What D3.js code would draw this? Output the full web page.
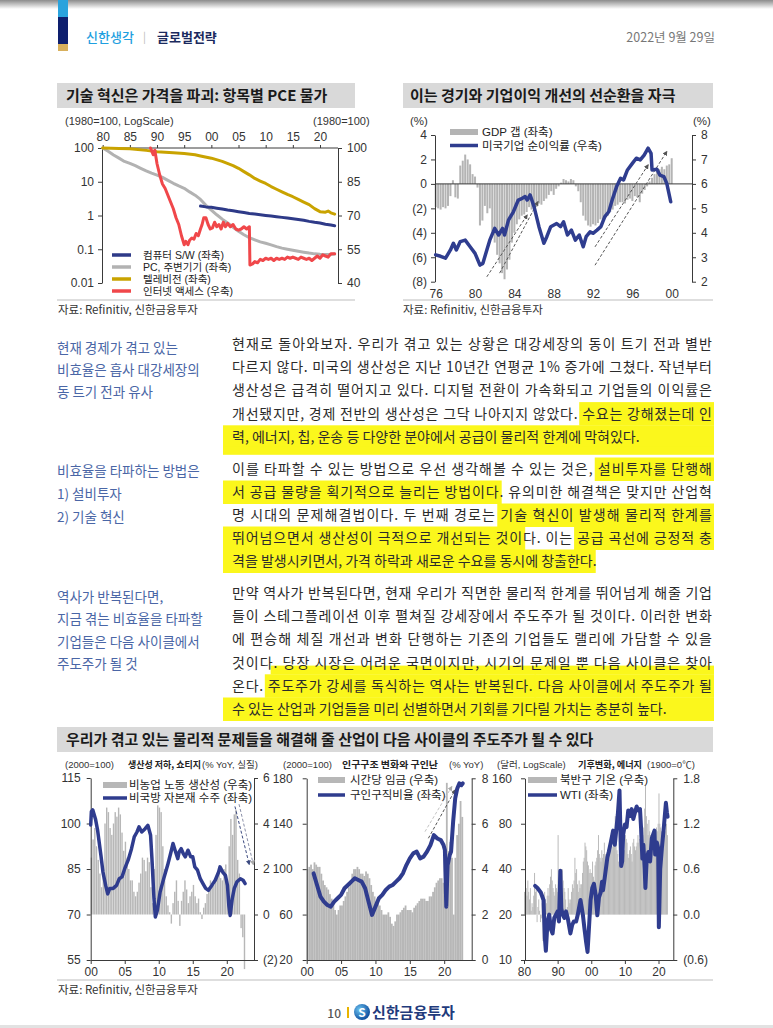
<!DOCTYPE html>
<html><head><meta charset="utf-8">
<script src="https://cdn.jsdelivr.net/npm/d3@7/dist/d3.min.js"></script>
<style>
html,body{margin:0;padding:0;background:#fff;}
svg{display:block;}
text{font-family:"Noto Sans CJK KR","Noto Sans",sans-serif;}
text.leg{font-family:"Liberation Sans","Noto Sans CJK KR",sans-serif;}
</style></head>
<body>
<svg id="page" width="773" height="1028" viewBox="0 0 773 1028"></svg>
<script>
// ================= DATA =================
// Chart 1: PCE prices by item (1980=100)
const pceYearTicks = [1980,1985,1990,1995,2000,2005,2010,2015,2020];
const pceLeftTicks = [100,10,1,0.1,0.01];
const pceRightTicks = [100,85,70,55,40];
const pceSoftware = [[1998,1.9],[1999,1.8],[2000,1.75],[2001,1.65],[2002,1.55],[2003,1.45],[2004,1.38],[2005,1.3],[2006,1.22],[2007,1.15],[2008,1.1],[2009,1.05],[2010,1.0],[2011,0.96],[2012,0.92],[2013,0.88],[2014,0.84],[2015,0.8],[2016,0.76],[2017,0.72],[2018,0.67],[2019,0.63],[2020,0.6],[2021,0.55],[2022,0.52],[2022.7,0.5]];
const pcePC = [[1980,100],[1981,80],[1982,62],[1983,50],[1984,40],[1985,35],[1986,30],[1987,25],[1988,21],[1989,18],[1990,15.8],[1991,13.5],[1992,11],[1993,9],[1994,7.5],[1995,6.4],[1996,5],[1997,4],[1998,3],[1999,2],[2000,1.45],[2001,1.05],[2002,0.78],[2003,0.6],[2004,0.45],[2005,0.34],[2006,0.27],[2007,0.22],[2008,0.19],[2009,0.165],[2010,0.15],[2011,0.135],[2012,0.12],[2013,0.108],[2014,0.1],[2015,0.093],[2016,0.087],[2017,0.082],[2018,0.077],[2019,0.073],[2020,0.071],[2021,0.07],[2022,0.07],[2022.7,0.072]];
const pceTV = [[1980,100],[1983,97],[1985,95],[1988,85],[1990,78],[1993,72],[1995,69],[1997,63],[1998,58],[2000,50],[2002,40],[2004,30],[2005,25],[2006,20],[2007,16],[2008,12.5],[2009,10.5],[2010,8.9],[2011,7.2],[2012,6],[2013,5],[2014,4.2],[2015,3.6],[2016,3],[2017,2.5],[2018,2.1],[2019,1.6],[2020,1.3],[2021,1.25],[2021.5,1.35],[2022,1.2],[2022.7,1.1]];
const pceInternet = [[1988.8,100],[1989.3,97],[1989.6,99],[1990,93],[1990.5,88],[1991,84],[1991.5,82],[1992,79],[1992.5,76],[1993,73],[1993.5,69],[1994,66],[1994.5,61],[1995,57],[1995.3,58.5],[1995.7,57],[1996,59],[1996.4,60],[1996.8,59.5],[1997.2,62],[1997.6,61],[1998,64],[1998.3,66],[1998.6,69],[1999,69],[1999.4,66],[1999.8,64],[2000.2,64.5],[2000.6,67],[2001,65],[2001.4,66],[2001.8,64],[2002.2,67],[2002.6,65],[2003,66.5],[2003.5,65],[2004,66],[2004.5,64],[2005,63.5],[2005.5,64],[2006,65],[2006.5,64],[2007,65],[2007.1,48],[2007.6,48.5],[2008,49.5],[2008.5,49],[2009,50.5],[2009.5,50],[2010,51],[2010.5,50.5],[2011,51],[2011.5,50],[2012,51],[2012.5,50.5],[2013,51],[2013.5,50.5],[2014,51.5],[2014.5,51],[2015,51.5],[2015.5,51],[2016,50.5],[2016.5,51.5],[2017,51],[2017.5,50.5],[2018,51],[2018.5,50],[2019,51],[2019.5,52],[2020,51],[2020.5,52.5],[2021,52],[2021.5,51.5],[2022,53],[2022.7,53]];
const pceLegend = ["컴퓨터 S/W (좌축)","PC, 주변기기 (좌축)","텔레비전 (좌축)","인터넷 액세스 (우축)"];

// Chart 2: GDP gap (quarterly from 1976Q1) and US corporate profit margin
const gapStartYear = 1976;
const gdpGap = [
 -1.9,-2.0,-2.1,-1.9,  -2.0,-1.8,-1.0,0.3,  -1.1,-1.2,1.5,1.9,  2.4,2.0,1.6,0.8,
 0.6,-0.3,-3.4,-3.0,  -1.8,-2.4,-2.0,-3.9,  -4.8,-5.8,-6.5,-7.3,  -7.8,-7.0,-6.2,-4.8,
 -4.0,-3.3,-2.9,-2.6,  -2.5,-2.3,-1.9,-2.1,  -1.6,-1.9,-1.6,-1.7,  -1.4,-1.2,-0.9,-0.6,
 -0.9,-0.4,-0.2,0.1,  0.4,0.3,0.2,0.4,  0.3,-0.2,-0.6,-1.5,  -2.6,-3.0,-3.4,-3.5,
 -3.3,-3.4,-3.2,-2.9,  -3.0,-2.8,-2.6,-2.3,  -2.1,-1.8,-1.7,-1.5,  -1.5,-1.6,-1.3,-1.2,
 -1.4,-1.0,-1.1,-1.5,  -0.8,-0.5,-0.2,0.2,  0.5,0.8,1.0,1.2,  1.4,1.2,1.5,1.6,  2.1];
const usProfitMargin = [[1976,3.1],[1976.5,3.04],[1977,2.96],[1977.5,3.3],[1977.8,3.57],[1978.1,3.3],[1978.5,3.64],[1979,3.7],[1979.5,3.43],[1980,3.16],[1980.5,2.68],[1980.8,2.75],[1981.2,3.3],[1981.5,3.7],[1982,4.18],[1982.4,3.91],[1982.8,4.18],[1983,3.91],[1983.4,4.52],[1983.9,4.86],[1984.4,5.34],[1984.8,5.41],[1985.1,5.48],[1985.3,5.34],[1985.6,5.55],[1986,5.07],[1986.5,4.25],[1987,3.57],[1987.3,3.84],[1987.7,4.25],[1988.3,4.38],[1988.7,4.25],[1989,4.45],[1989.4,3.91],[1989.8,4.11],[1990.2,3.7],[1990.6,3.91],[1991,3.43],[1991.3,3.84],[1991.7,4.04],[1992,3.98],[1992.4,4.11],[1992.8,4.25],[1993.2,4.66],[1993.6,4.86],[1994,5.41],[1994.4,5.89],[1994.8,6.23],[1995.1,6.16],[1995.5,6.57],[1996,6.84],[1996.4,7.05],[1996.8,6.98],[1997.2,7.18],[1997.6,7.46],[1997.9,7.25],[1998,6.57],[1998.5,6.6],[1998.8,6.36],[1999.2,6.3],[1999.5,6.02],[1999.9,5.27]];
const gapYearTicks = [1976,1980,1984,1988,1992,1996,2000];
const gapLeftTicks = [4,2,0,-2,-4,-6,-8];
const gapRightTicks = [8,7,6,5,4,3,2];
const gapArrows = [[[1981.2,-7.6],[1985.3,-2.55]],[[1982.5,-7.3],[1986.4,-1.45]],[[1992.2,-5.15],[1997.6,1.55]],[[1992.2,-6.65],[1999.5,2.65]]];
const gapLegend = ["GDP 갭 (좌축)","미국기업 순이익률 (우축)"];

// Chart A: productivity (quarterly from 2000Q1) and nondefense capital goods orders
const prodStartYear = 2000;
const nonfarmProductivity = [
 2.5,3.3,3.8,3.0,  2.4,1.8,1.2,2.0,  4.0,4.7,4.5,3.8,  3.5,4.0,4.5,4.3,  4.7,4.4,3.6,2.8,
 3.2,2.5,2.0,1.5,  1.5,1.0,0.8,1.0,  1.4,1.8,2.5,2.4,  1.9,2.5,2.3,1.2,  0.5,2.0,3.5,4.8,
 4.7,4.5,3.0,2.0,  0.8,0.4,0.1,-0.4,  0.5,1.0,1.5,0.6,  -0.5,0.6,1.0,1.5,  1.1,0.5,0.8,1.0,
 1.3,0.8,0.5,0.7,  0.1,-0.2,0.3,0.5,  0.9,1.2,1.5,1.3,  1.3,1.5,1.8,1.9,  1.6,1.5,2.0,2.2,
 1.0,3.0,4.2,3.5,  4.4,4.6,2.4,1.8,  -0.6,-1.0,-2.4];
const capitalGoodsOrders = [[2000,99.5],[2000.1,103.9],[2000.3,104.5],[2000.7,101.5],[2001,98],[2001.5,89.5],[2001.8,84],[2002.2,79.6],[2002.5,76.8],[2002.8,78.6],[2003.3,78.6],[2003.8,79.6],[2004.2,81.8],[2004.6,82.4],[2005,85.1],[2005.5,87.9],[2006,91.7],[2006.4,95.6],[2006.8,97.2],[2007.1,98.9],[2007.5,97.2],[2008,98.3],[2008.4,99.4],[2008.8,96.1],[2009,88.4],[2009.3,75.2],[2009.5,69.2],[2009.8,71.4],[2010.2,77.4],[2010.8,82.4],[2011.3,86.2],[2011.8,90.6],[2012.1,93.4],[2012.4,91.2],[2012.8,88.4],[2013,90.6],[2013.3,91.7],[2013.6,90.1],[2013.9,89],[2014.3,91.2],[2014.7,89],[2015,89],[2015.3,85.7],[2015.7,84.6],[2016.1,81.8],[2016.5,80.2],[2016.9,78.6],[2017.3,78],[2017.8,79.6],[2018.3,81.3],[2018.8,84],[2019,85.7],[2019.4,84],[2019.8,82.9],[2020.1,79.6],[2020.3,73],[2020.5,69.7],[2020.8,75.2],[2021.1,78.6],[2021.5,80.8],[2022,81.8],[2022.4,81.3],[2022.7,80.2]];
const prodLeftTicks = [115,100,85,70,55];
const prodRightTicks = [6,4,2,0,-2];
const prodYearTicks = [2000,2005,2010,2015,2020];
const prodArrows = [[[2021.2,4.75],[2023.3,2.2]],[[2021.8,4.85],[2023.9,2.2]]];
const prodLegend = ["비농업 노동 생산성 (우축)","비국방 자본재 수주 (좌축)"];

// Chart B: hourly wages (quarterly from 2000Q1) and job openings ratio
const wageStartYear = 2000;
const hourlyWages = [
 4.0,4.1,4.2,4.0,  4.3,4.2,4.1,4.1,  3.8,3.5,3.3,3.2,  3.1,2.9,2.7,2.5,  2.2,2.0,2.2,2.4,
 2.4,2.6,2.8,3.0,  3.2,3.5,3.8,4.0,  4.0,4.1,4.0,3.8,  3.8,3.7,3.9,3.8,  3.6,3.3,3.0,2.8,
 2.6,2.5,2.4,2.2,  2.0,2.0,2.0,2.1,  1.9,1.6,1.5,1.7,  2.0,2.0,2.1,2.2,  2.3,2.4,2.2,2.2,
 2.2,2.1,2.3,2.4,  2.5,2.6,2.7,2.7,  2.7,2.6,2.6,2.8,  2.8,3.0,3.2,3.4,  3.5,3.6,3.6,3.4,
 3.3,7.8,4.8,5.2,  4.5,2.0,4.5,5.5,  6.0,7.0,6.3];
const jobOpeningsRatio = [[2001,96.3],[2001.5,86],[2002,75.8],[2002.5,71.4],[2003,68.4],[2003.5,67],[2004,71.4],[2004.5,74.4],[2005,77.3],[2005.5,83.2],[2006,86.1],[2006.5,89],[2007,92],[2007.5,90.5],[2008,89],[2008.5,83.2],[2009,71.4],[2009.5,59.7],[2010,67],[2010.5,74.4],[2011,77.3],[2011.5,81.7],[2012,84.6],[2012.5,86.1],[2013,89],[2013.5,92],[2014,96.3],[2014.5,103.6],[2015,109.5],[2015.5,113.9],[2016,115.4],[2016.5,109.5],[2017,111],[2017.5,115.4],[2018,121.2],[2018.5,130],[2019,127],[2019.5,125.6],[2019.9,121.2],[2020.1,116.8],[2020.3,67],[2020.5,103.6],[2020.8,112.4],[2021,115.4],[2021.3,141.8],[2021.6,162.3],[2021.9,171.1],[2022.2,175.5],[2022.5,174],[2022.7,175.5]];
const wageLeftTicks = [180,140,100,60,20];
const wageRightTicks = [8,6,4,2,0];
const wageYearTicks = [2000,2005,2010,2015,2020];
const wageArrows = [[[2017.2,5.65],[2021.1,7.63]],[[2017.7,5.36],[2021.6,7.49]]];
const wageLegend = ["시간당 임금 (우축)","구인구직비율 (좌축)"];

// Chart C: Northern hemisphere temperature anomaly (quarterly from 1980Q1) and WTI
const tempStartYear = 1980;
const nhTemperature = [
 0.30,0.20,0.35,0.25, 0.45,0.30,0.20,0.35, 0.05,0.15,0.10,0.25, 0.55,0.30,0.35,-0.10,
 0.10,0.20,0.05,-0.10, -0.05,0.15,-0.35,0.05, 0.30,0.20,0.15,0.25, 0.35,0.25,0.40,0.50,
 0.60,0.45,0.35,0.30, 0.25,0.40,0.35,0.30, 1.05,0.50,0.40,0.55, 0.50,0.60,0.45,0.35,
 0.30,0.20,0.05,0.10, 0.35,0.20,0.15,0.20, 0.30,0.40,0.35,0.45, 0.75,0.55,0.60,0.40,
 0.30,0.45,0.35,0.40, 0.40,0.55,0.70,0.75, 0.95,0.90,0.85,0.70, 0.65,0.55,0.60,0.55,
 0.55,0.70,0.50,0.45, 0.65,0.70,0.75,0.85, 1.05,0.80,0.75,0.70, 0.85,0.75,0.80,0.95,
 0.80,0.70,0.65,0.85, 0.90,0.95,0.90,1.05, 0.85,0.90,0.95,1.10, 1.30,0.95,0.85,0.80,
 0.70,0.75,0.80,0.85, 0.75,0.80,0.90,0.85, 1.05,1.00,0.95,0.80, 0.75,0.85,0.90,0.80,
 0.70,0.95,1.00,0.90, 0.85,0.90,0.95,1.05, 0.95,1.00,1.05,0.95, 1.10,1.05,1.15,1.40,
 1.70,1.30,1.20,1.05, 1.25,1.10,1.05,1.00, 1.00,1.05,0.95,0.90, 1.10,1.15,1.10,1.20,
 1.60,1.20,1.15,1.10, 0.95,1.05,1.10,1.15, 1.10,1.20,1.05];
const wti = [[1983.3,31],[1984,30],[1985,28],[1985.8,25],[1986.2,14],[1986.5,11.5],[1987,18],[1987.5,20],[1988,16],[1988.5,15],[1989,19],[1989.5,20],[1990,21],[1990.4,18],[1990.8,39],[1991.1,22],[1991.5,20],[1992,19],[1992.5,21],[1993,19],[1993.8,15],[1994.3,17],[1994.8,18],[1995.5,18],[1996,20],[1996.8,25],[1997.5,20],[1998,16],[1998.5,13],[1998.9,11.3],[1999.3,16],[1999.8,25],[2000.3,30],[2000.8,32],[2001.3,27],[2001.8,19.8],[2002.3,26],[2002.8,28],[2003.2,33],[2003.5,29],[2004,35],[2004.8,48],[2005.2,52],[2005.8,60],[2006.5,72],[2007,58],[2007.5,75],[2007.9,92],[2008.4,133],[2008.9,42],[2009.2,45],[2009.5,68],[2010,79],[2010.5,76],[2011,98],[2011.5,90],[2012,100],[2012.5,86],[2013,95],[2013.5,104],[2014,98],[2014.5,100],[2014.8,76],[2015.2,47],[2015.5,58],[2015.9,40],[2016.1,30],[2016.5,47],[2017,52],[2017.5,45],[2018,64],[2018.8,72],[2019,50],[2019.5,60],[2019.9,55],[2020.1,16.5],[2020.5,40],[2021,55],[2021.5,72],[2022.2,110],[2022.5,95],[2022.7,89]];
const tempLeftTicks = [160,80,40,20,10];
const tempRightTicks = [1.8,1.2,0.6,0,-0.6];
const tempYearTicks = [1980,1990,2000,2010,2020];
const tempLegend = ["북반구 기온 (우축)","WTI (좌축)"];

// Text content
const headerLeft = "신한생각", headerRight = "글로벌전략", headerDate = "2022년 9월 29일";
const title1 = "기술 혁신은 가격을 파괴: 항목별 PCE 물가";
const title2 = "이는 경기와 기업이익 개선의 선순환을 자극";
const title3 = "우리가 겪고 있는 물리적 문제들을 해결해 줄 산업이 다음 사이클의 주도주가 될 수 있다";
const sourceText = "자료: Refinitiv, 신한금융투자";
const bottomHeaders = [
 ["(2000=100)",false,65,0],["생산성 저하, 쇼티지",true,128,73],["(% YoY, 실질)",false,202,0],
 ["(2000=100)",false,283,0],["인구구조 변화와 구인난",true,342,96],["(% YoY)",false,449,0],
 ["(달러, LogScale)",false,497,0],["기후변화, 에너지",true,578,64],["(1900=0℃)",false,647,0]];
const section1Labels = ["현재 경제가 겪고 있는","비효율은 흡사 대강세장의","동 트기 전과 유사"];
const section1Body = [
 "현재로 돌아와보자. 우리가 겪고 있는 상황은 대강세장의 동이 트기 전과 별반",
 "다르지 않다. 미국의 생산성은 지난 10년간 연평균 1% 증가에 그쳤다. 작년부터",
 "생산성은 급격히 떨어지고 있다. 디지털 전환이 가속화되고 기업들의 이익률은",
 "개선됐지만, 경제 전반의 생산성은 그닥 나아지지 않았다. [수요는 강해졌는데 인]",
 "[력, 에너지, 칩, 운송 등 다양한 분야에서 공급이 물리적 한계에 막혀있다.]"];
const section2Labels = ["비효율을 타파하는 방법은","1) 설비투자","2) 기술 혁신"];
const section2Body = [
 "이를 타파할 수 있는 방법으로 우선 생각해볼 수 있는 것은, [설비투자를 단행해]",
 "[서 공급 물량을 획기적으로 늘리는 방법이다]. 유의미한 해결책은 맞지만 산업혁",
 "명 시대의 문제해결법이다. 두 번째 경로는 [기술 혁신이 발생해 물리적 한계를]",
 "[뛰어넘으면서 생산성이 극적으로 개선되는 것이]다. 이는 [공급 곡선에 긍정적 충]",
 "[격을 발생시키면서, 가격 하락과 새로운 수요를 동시에 창출한다]."];
const section3Labels = ["역사가 반복된다면,","지금 겪는 비효율을 타파할","기업들은 다음 사이클에서","주도주가 될 것"];
const section3Body = [
 "만약 역사가 반복된다면, 현재 우리가 직면한 물리적 한계를 뛰어넘게 해줄 기업",
 "들이 스테그플레이션 이후 펼쳐질 강세장에서 주도주가 될 것이다. 이러한 변화",
 "에 편승해 체질 개선과 변화 단행하는 기존의 기업들도 랠리에 가담할 수 있을",
 "것이다{. 당장 시장은 어려운 국면이지만, 시기의 문제일 뿐 다음 사이클은 찾아}",
 "온다. [주도주가 강세를 독식하는 역사는 반복된다.] [다음 사이클에서 주도주가 될]",
 "[수 있는 산업과 기업들을 미리 선별하면서 기회를 기다릴 가치는 충분히 높다.]"];

// ================= DRAW =================
const svg = d3.select('#page');
const NAVY = '#2f3c8e', BAR = '#b7b7b7', AX = '#3a3a3a', TXT = '#333333', TITLEBG = '#d9d9d9';
const LBLUE = '#4a66a6', HIL = '#fbf71c';
const defs = svg.append('defs');
const sh = defs.append('linearGradient').attr('id','topShadow').attr('x1',0).attr('y1',0).attr('x2',0).attr('y2',1);
sh.append('stop').attr('offset','0%').attr('stop-color','#8c8c8c');
sh.append('stop').attr('offset','100%').attr('stop-color','#ffffff');
const lg = defs.append('radialGradient').attr('id','logoGrad').attr('cx','35%').attr('cy','35%').attr('r','70%');
lg.append('stop').attr('offset','0%').attr('stop-color','#6cc3f0');
lg.append('stop').attr('offset','100%').attr('stop-color','#0b4a9c');
function marker(id, color){
  defs.append('marker').attr('id',id).attr('viewBox','0 0 10 10').attr('refX',8).attr('refY',5)
   .attr('markerWidth',5).attr('markerHeight',5).attr('orient','auto')
   .append('path').attr('d','M0,0L10,5L0,10z').attr('fill',color);
}
marker('arrDark','#555'); marker('arrLight','#aaa'); marker('arrNavy','#3c4a80');

function txt(g, x, y, s, o={}){
  const t = g.append('text').attr('x',x).attr('y',y).text(s)
    .attr('font-size',o.size||12).attr('fill',o.fill||TXT)
    .attr('font-weight',o.weight||400).attr('text-anchor',o.anchor||'start');
  if(o.cls) t.attr('class',o.cls);
  return t;
}
function vAxis(g, scale, x, orient, ticks, fmt, pad, fs){
  const ax = (orient==='left'?d3.axisLeft(scale):d3.axisRight(scale))
    .tickValues(ticks).tickFormat(fmt).tickSize(4).tickSizeOuter(0).tickPadding(pad);
  const a = g.append('g').attr('transform',`translate(${x},0)`).call(ax);
  a.attr('font-family',null).attr('font-size',null);
  a.select('.domain').attr('stroke',AX);
  a.selectAll('.tick line').attr('stroke',AX);
  a.selectAll('.tick text').attr('font-size',fs).attr('fill',TXT).attr('class','leg');
  return a;
}
function hAxis(g, scale, y, ticks, fmt, fs, orient, showDomain, tickLen, pad){
  const ax = (orient==='top'?d3.axisTop(scale):d3.axisBottom(scale))
    .tickValues(ticks).tickFormat(fmt).tickSize(tickLen).tickSizeOuter(0).tickPadding(pad);
  const a = g.append('g').attr('transform',`translate(0,${y})`).call(ax);
  a.attr('font-family',null).attr('font-size',null);
  if(showDomain) a.select('.domain').attr('stroke',AX); else a.select('.domain').remove();
  a.selectAll('.tick line').attr('stroke',AX);
  a.selectAll('.tick text').attr('font-size',fs).attr('fill',TXT).attr('class','leg');
  return a;
}
const yy = d => String(((d%100)+100)%100).padStart(2,'0');
const paren = d => d<0 ? `(${Math.abs(d)})` : String(d);
function path(g, data, xs, ys, color, w){
  g.append('path').datum(data).attr('fill','none').attr('stroke',color).attr('stroke-width',w)
   .attr('stroke-linejoin','round').attr('stroke-linecap','round')
   .attr('d', d3.line().x(d=>xs(d[0])).y(d=>ys(d[1])));
}
function arrows(g, list, xs, ys, colors, mks){
  list.forEach((a,i)=>{
    g.append('line').attr('x1',xs(a[0][0])).attr('y1',ys(a[0][1])).attr('x2',xs(a[1][0])).attr('y2',ys(a[1][1]))
     .attr('stroke',colors[i%colors.length]).attr('stroke-width',1).attr('stroke-dasharray','3,2')
     .attr('marker-end',`url(#${mks[i%mks.length]})`);
  });
}

// ---------- page header ----------
const hdr = svg.append('g');
hdr.append('rect').attr('x',0).attr('y',0).attr('width',773).attr('height',9).attr('fill','url(#topShadow)');
hdr.append('rect').attr('x',58).attr('y',0).attr('width',10).attr('height',17).attr('fill','#2aa3dd');
hdr.append('rect').attr('x',58).attr('y',17).attr('width',10).attr('height',27).attr('fill','#0e1f6e');
hdr.append('rect').attr('x',58).attr('y',44).attr('width',10).attr('height',7).attr('fill','#d8b05c');
txt(hdr,86,42,headerLeft,{size:13,fill:'#1f9fe0',weight:500});
txt(hdr,143,41,'|',{size:11,fill:'#bbb'});
txt(hdr,157,42,headerRight,{size:13,fill:'#1b2a5e',weight:700});
txt(hdr,715,42,headerDate,{size:12.5,fill:'#777',anchor:'end'});

// ---------- chart titles ----------
function titleBox(x0,x1,y0,y1,t,tx){
  svg.append('rect').attr('x',x0).attr('y',y0).attr('width',x1-x0).attr('height',y1-y0).attr('fill',TITLEBG);
  txt(svg,tx,y1-7,t,{size:15,weight:700,fill:'#1a1a1a'});
}
titleBox(57,355,83,108,title1,66);
titleBox(403,713,83,108,title2,410);

// ---------- Chart 1 ----------
{
  const g = svg.append('g');
  const x = d3.scaleLinear([1980,2020],[102.7,320]);
  const yL = d3.scaleLog([0.01,100],[283,148]);
  const yR = d3.scaleLinear([40,100],[283,148]);
  txt(g,65,125,'(1980=100,  LogScale)',{size:11,cls:'leg'});
  txt(g,313,125,'(1980=100)',{size:11,cls:'leg'});
  vAxis(g,yL,102,'left',pceLeftTicks,d=>String(d),4,12);
  vAxis(g,yR,338,'right',pceRightTicks,d=>String(d),5,12);
  g.append('line').attr('x1',102).attr('x2',338).attr('y1',148).attr('y2',148).attr('stroke',AX);
  hAxis(g,x,148,pceYearTicks,yy,12,'top',false,3,4);
  path(g,pcePC,x,yL,'#b2b2b2',3);
  path(g,pceTV,x,yL,'#c9a300',3);
  path(g,pceSoftware,x,yL,'#2e3a88',3);
  path(g,pceInternet,x,yR,'#f0474a',3);
  const cols = ['#2e3a88','#b2b2b2','#c9a300','#f0474a'];
  pceLegend.forEach((t,i)=>{
    const ly = 255 + i*12;
    g.append('line').attr('x1',112).attr('x2',131).attr('y1',ly).attr('y2',ly).attr('stroke',cols[i]).attr('stroke-width',3.5);
    txt(g,143,ly+4,t,{size:10.5,fill:'#222',cls:'leg'});
  });
  svg.append('line').attr('x1',57).attr('x2',355).attr('y1',300).attr('y2',300).attr('stroke','#bdbdbd');
  txt(svg,58,314,sourceText,{size:11.5});
}

// ---------- Chart 2 ----------
{
  const g = svg.append('g');
  const x = d3.scaleLinear([1976,2000],[435.7,671.7]);
  const yL = d3.scaleLinear([-8,4],[281.7,135]);
  const yR = d3.scaleLinear([2,8],[281.7,135]);
  txt(g,410,124.5,'(%)',{size:11.5,cls:'leg'});
  txt(g,693,124.5,'(%)',{size:11.5,cls:'leg'});
  g.selectAll('rect.gap').data(gdpGap).enter().append('rect')
    .attr('x',(d,i)=>x(gapStartYear+i/4)-1).attr('width',2)
    .attr('y',d=>Math.min(yL(d),yL(0))).attr('height',d=>Math.abs(yL(d)-yL(0)))
    .attr('fill','#b4b4b4');
  g.append('line').attr('x1',435).attr('x2',692).attr('y1',yL(0)).attr('y2',yL(0)).attr('stroke',AX);
  vAxis(g,yL,435,'left',gapLeftTicks,paren,4,12);
  vAxis(g,yR,692,'right',gapRightTicks,d=>String(d),5,12);
  hAxis(g,x,286,gapYearTicks,yy,12,'bottom',false,0,3);
  arrows(g,gapArrows,x,yL,['#555'],['arrDark']);
  path(g,usProfitMargin,x,yR,'#2f3d8f',3.5);
  g.append('rect').attr('x',450).attr('y',129).attr('width',28).attr('height',6).attr('fill','#b4b4b4');
  txt(g,482,136,gapLegend[0],{size:11.5,fill:'#222',cls:'leg'});
  g.append('line').attr('x1',450).attr('x2',478).attr('y1',145.5).attr('y2',145.5).attr('stroke','#2f3d8f').attr('stroke-width',3.5);
  txt(g,482,149.5,gapLegend[1],{size:11.5,fill:'#222',cls:'leg'});
  svg.append('line').attr('x1',403).attr('x2',713).attr('y1',300).attr('y2',300).attr('stroke','#bdbdbd');
  txt(svg,403,314,sourceText,{size:11.5});
}

// ---------- Text sections ----------
const hlG = svg.append('g');
const tG = svg.append('g');
function parseLine(s){
  let plain='', ranges=[], cur=null;
  for(const ch of s){
    if(ch==='['){cur={start:plain.length,type:'full'};}
    else if(ch==='{'){cur={start:plain.length,type:'half'};}
    else if(ch===']'||ch==='}'){cur.end=plain.length;ranges.push(cur);cur=null;}
    else plain+=ch;
  }
  return {plain,ranges};
}
function section(labels, labelY0, labelStep, body, bodyY0, bodyStep, extendRight){
  labels.forEach((t,i)=>txt(tG,57,labelY0+i*labelStep+5,t,{size:13.5,fill:LBLUE}));
  body.forEach((s,i)=>{
    const {plain,ranges} = parseLine(s);
    const cy = bodyY0 + i*bodyStep;
    const el = txt(tG,232,cy+5,plain,{size:14,fill:'#2b2b2b'});
    if(i<body.length-1) el.attr('textLength',480).attr('lengthAdjust','spacing');
    const node = el.node();
    ranges.forEach(r=>{
      let sx = node.getStartPositionOfChar(r.start).x - 3;
      let ex = node.getEndPositionOfChar(r.end-1).x + 3;
      if(r.start===0) sx = 223;
      if(r.end===plain.length && (i<body.length-1 || extendRight.includes(i))) ex = 714;
      const y0 = r.type==='full' ? cy-11.5 : cy+3;
      const y1 = cy+12;
      hlG.append('rect').attr('x',sx).attr('y',y0).attr('width',ex-sx).attr('height',y1-y0).attr('fill',HIL);
    });
  });
}
section(section1Labels,348,22,section1Body,344,23.2,[4]);
section(section2Labels,471,23,section2Body,469,23,[]);
section(section3Labels,597,22.3,section3Body,593,23.2,[5]);
{
  const cy = 344 + 4*23.2;
  hlG.append('rect').attr('x',223).attr('y',cy+10).attr('width',491).attr('height',8).attr('fill',HIL);
}

// ---------- Bottom title ----------
titleBox(57,713,727,752,title3,66);

{
  const g = svg.append('g');
  bottomHeaders.forEach(([t,b,x,w])=>{
    const el = txt(g,x,768,t,{size:9.5,weight:b?700:400,fill:b?'#222':TXT,cls:b?null:'leg'});
    if(w) el.attr('textLength',w).attr('lengthAdjust','spacingAndGlyphs');
  });
}

// ---------- Chart A ----------
{
  const g = svg.append('g');
  const x = d3.scaleLinear([2000,2024],[90.7,254]);
  const yL = d3.scaleLinear([55,115],[960,778]);
  const yR = d3.scaleLinear([-2,6],[960,778]);
  g.selectAll('rect').data(nonfarmProductivity).enter().append('rect')
   .attr('x',(d,i)=>x(prodStartYear+i/4)).attr('width',1.4)
   .attr('y',d=>Math.min(yR(d),yR(0))).attr('height',d=>Math.abs(yR(d)-yR(0))).attr('fill',BAR);
  vAxis(g,yL,90.7,'left',prodLeftTicks,d=>String(d),6,12);
  vAxis(g,yR,254,'right',prodRightTicks,paren,5,12);
  hAxis(g,x,960,prodYearTicks,yy,12,'bottom',true,4,3);
  arrows(g,prodArrows,x,yR,['#3c4a80','#8a8fa8'],['arrNavy','arrLight']);
  path(g,capitalGoodsOrders,x,yL,'#2f3c8e',3.5);
  g.append('rect').attr('x',103).attr('y',782).attr('width',24).attr('height',6).attr('fill',BAR);
  txt(g,129,789,prodLegend[0],{size:11.5,fill:'#222',cls:'leg'});
  g.append('line').attr('x1',103).attr('x2',127).attr('y1',798).attr('y2',798).attr('stroke','#2f3c8e').attr('stroke-width',3.5);
  txt(g,129,802,prodLegend[1],{size:11.5,fill:'#222',cls:'leg'});
}

// ---------- Chart B ----------
{
  const g = svg.append('g');
  const x = d3.scaleLinear([2000,2024],[306.7,471.7]);
  const yL = d3.scaleLinear([20,180],[960,778.3]);
  const yR = d3.scaleLinear([0,8],[960,778.3]);
  g.selectAll('rect').data(hourlyWages).enter().append('rect')
   .attr('x',(d,i)=>x(wageStartYear+i/4)).attr('width',1.8)
   .attr('y',d=>yR(d)).attr('height',d=>yR(0)-yR(d)).attr('fill',BAR);
  vAxis(g,yL,306.7,'left',wageLeftTicks,d=>String(d),10,12);
  vAxis(g,yR,471.7,'right',wageRightTicks,d=>String(d),6,12);
  hAxis(g,x,960,wageYearTicks,yy,12,'bottom',true,4,3);
  arrows(g,wageArrows,x,yR,['#c4c4c4','#555'],['arrLight','arrDark']);
  path(g,jobOpeningsRatio,x,yL,'#2f3c8e',4);
  g.append('rect').attr('x',318).attr('y',777).attr('width',27).attr('height',6).attr('fill',BAR);
  txt(g,350,784,wageLegend[0],{size:11.5,fill:'#222',cls:'leg'});
  g.append('line').attr('x1',318).attr('x2',345).attr('y1',795).attr('y2',795).attr('stroke','#2f3c8e').attr('stroke-width',3.5);
  txt(g,350,799,wageLegend[1],{size:11.5,fill:'#222',cls:'leg'});
}

// ---------- Chart C ----------
{
  const g = svg.append('g');
  const x = d3.scaleLinear([1980,2024.4],[524,673.3]);
  const yL = d3.scaleLog([10,160],[960,778.3]);
  const yR = d3.scaleLinear([-0.6,1.8],[960,778.3]);
  g.selectAll('rect').data(nhTemperature).enter().append('rect')
   .attr('x',(d,i)=>x(tempStartYear+i/4)).attr('width',0.95)
   .attr('y',d=>Math.min(yR(d),yR(0))).attr('height',d=>Math.abs(yR(d)-yR(0))).attr('fill',BAR);
  vAxis(g,yL,525,'left',tempLeftTicks,d=>String(d),9,12);
  vAxis(g,yR,673.3,'right',tempRightTicks,d=>d<0?`(${Math.abs(d).toFixed(1)})`:d.toFixed(1),6,12);
  hAxis(g,x,960,tempYearTicks,yy,12,'bottom',true,4,3);
  path(g,wti,x,yL,'#2f3c8e',4);
  g.append('rect').attr('x',528).attr('y',777).attr('width',29).attr('height',6).attr('fill',BAR);
  txt(g,560,784,tempLegend[0],{size:11.5,fill:'#222',cls:'leg'});
  g.append('line').attr('x1',528).attr('x2',557).attr('y1',795).attr('y2',795).attr('stroke','#2f3c8e').attr('stroke-width',3.5);
  txt(g,560,799,tempLegend[1],{size:11.5,fill:'#222',cls:'leg'});
}

svg.append('line').attr('x1',57).attr('x2',713).attr('y1',980).attr('y2',980).attr('stroke','#bdbdbd');
txt(svg,58,994,sourceText,{size:11.5});

// ---------- footer ----------
{
  const g = svg.append('g');
  txt(g,341,1018,'10',{size:12,fill:'#555',anchor:'end',weight:500});
  g.append('rect').attr('x',347).attr('y',1007).attr('width',2).attr('height',11).attr('fill','#e8b400');
  g.append('circle').attr('cx',362).attr('cy',1012).attr('r',8).attr('fill','url(#logoGrad)');
  txt(g,362,1017,'S',{size:12,fill:'#fff',weight:700,anchor:'middle'});
  txt(g,372,1018,'신한금융투자',{size:15,fill:'#1f3b7c',weight:700});
  g.append('rect').attr('x',0).attr('y',1025).attr('width',773).attr('height',3).attr('fill','#e2e2e2');
}
</script>
</body></html>
